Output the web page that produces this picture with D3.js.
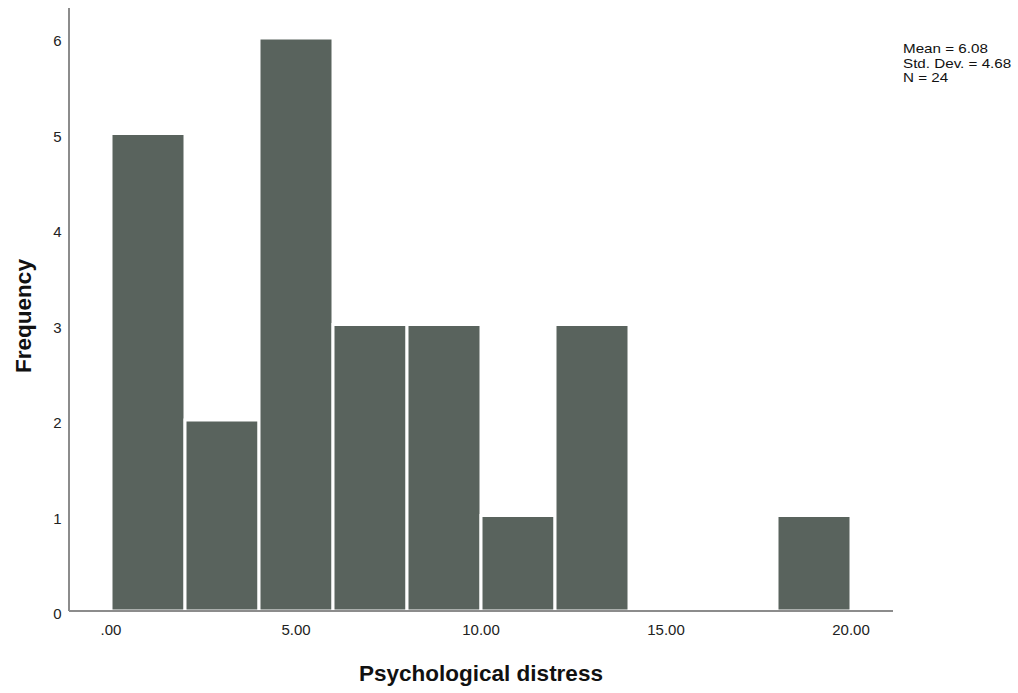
<!DOCTYPE html>
<html>
<head>
<meta charset="utf-8">
<script src="https://cdn.jsdelivr.net/npm/d3@7"></script>
<style>
  html, body { margin: 0; padding: 0; background: #fff; }
  svg { display: block; font-family: "Liberation Sans", Arial, sans-serif; }
</style>
</head>
<body>
<svg id="chart" width="1018" height="693"></svg>
<script>
// Histogram bins (lower edge, upper edge) and counts
const binStarts = [0, 2, 4, 6, 8, 10, 12, 14, 16, 18];
const binWidth = 2;
const counts = [5, 2, 6, 3, 3, 1, 3, 0, 0, 1];
const xTicks = [0, 5, 10, 15, 20];
const yTicks = [0, 1, 2, 3, 4, 5, 6];
const statsLines = ["Mean = 6.08", "Std. Dev. = 4.68", "N = 24"];

const svg = d3.select("#chart");

const x = d3.scaleLinear().domain([0, 20]).range([111, 851]);
const y = d3.scaleLinear().domain([0, 6]).range([611, 38]);

const xLeft = 69, xRight = 893, yTop = 8;

// Bars
svg.append("g")
  .selectAll("rect")
  .data(binStarts.map((s, i) => ({ s, c: counts[i] })).filter(d => d.c > 0))
  .join("rect")
  .attr("x", d => x(d.s))
  .attr("y", d => y(d.c))
  .attr("width", d => x(d.s + binWidth) - x(d.s))
  .attr("height", d => y(0) - y(d.c))
  .attr("fill", "#59635d")
  .attr("stroke", "#ffffff")
  .attr("stroke-width", 3);

// Axis lines
svg.append("line")
  .attr("x1", xLeft).attr("x2", xLeft)
  .attr("y1", yTop).attr("y2", y(0))
  .attr("stroke", "#8c8c8c").attr("stroke-width", 2);
svg.append("line")
  .attr("x1", xLeft).attr("x2", xRight)
  .attr("y1", y(0)).attr("y2", y(0))
  .attr("stroke", "#8c8c8c").attr("stroke-width", 2);

// Y tick labels
svg.append("g")
  .selectAll("text")
  .data(yTicks)
  .join("text")
  .attr("x", 57.5)
  .attr("y", d => y(d) + 8)
  .attr("text-anchor", "middle")
  .attr("font-size", 15)
  .attr("fill", "#222")
  .text(d => d);

// X tick labels
const fmt = v => v === 0 ? ".00" : d3.format(".2f")(v);
svg.append("g")
  .selectAll("text")
  .data(xTicks)
  .join("text")
  .attr("x", d => x(d))
  .attr("y", 635)
  .attr("text-anchor", "middle")
  .attr("font-size", 15)
  .attr("fill", "#222")
  .text(fmt);

// Axis titles
svg.append("text")
  .attr("transform", "translate(31,316) rotate(-90)")
  .attr("text-anchor", "middle")
  .attr("font-size", 22.5)
  .attr("font-weight", "bold")
  .attr("fill", "#111")
  .text("Frequency");

svg.append("text")
  .attr("x", 481)
  .attr("y", 681)
  .attr("text-anchor", "middle")
  .attr("font-size", 22.5)
  .attr("font-weight", "bold")
  .attr("fill", "#111")
  .text("Psychological distress");

// Summary statistics (slightly widened, tightly stacked)
svg.append("g")
  .attr("transform", "translate(903,0) scale(1.17,1)")
  .selectAll("text")
  .data(statsLines)
  .join("text")
  .attr("x", 0)
  .attr("y", (d, i) => 53 + i * 14.6)
  .attr("font-size", 13)
  .attr("fill", "#111")
  .text(d => d);
</script>
</body>
</html>
